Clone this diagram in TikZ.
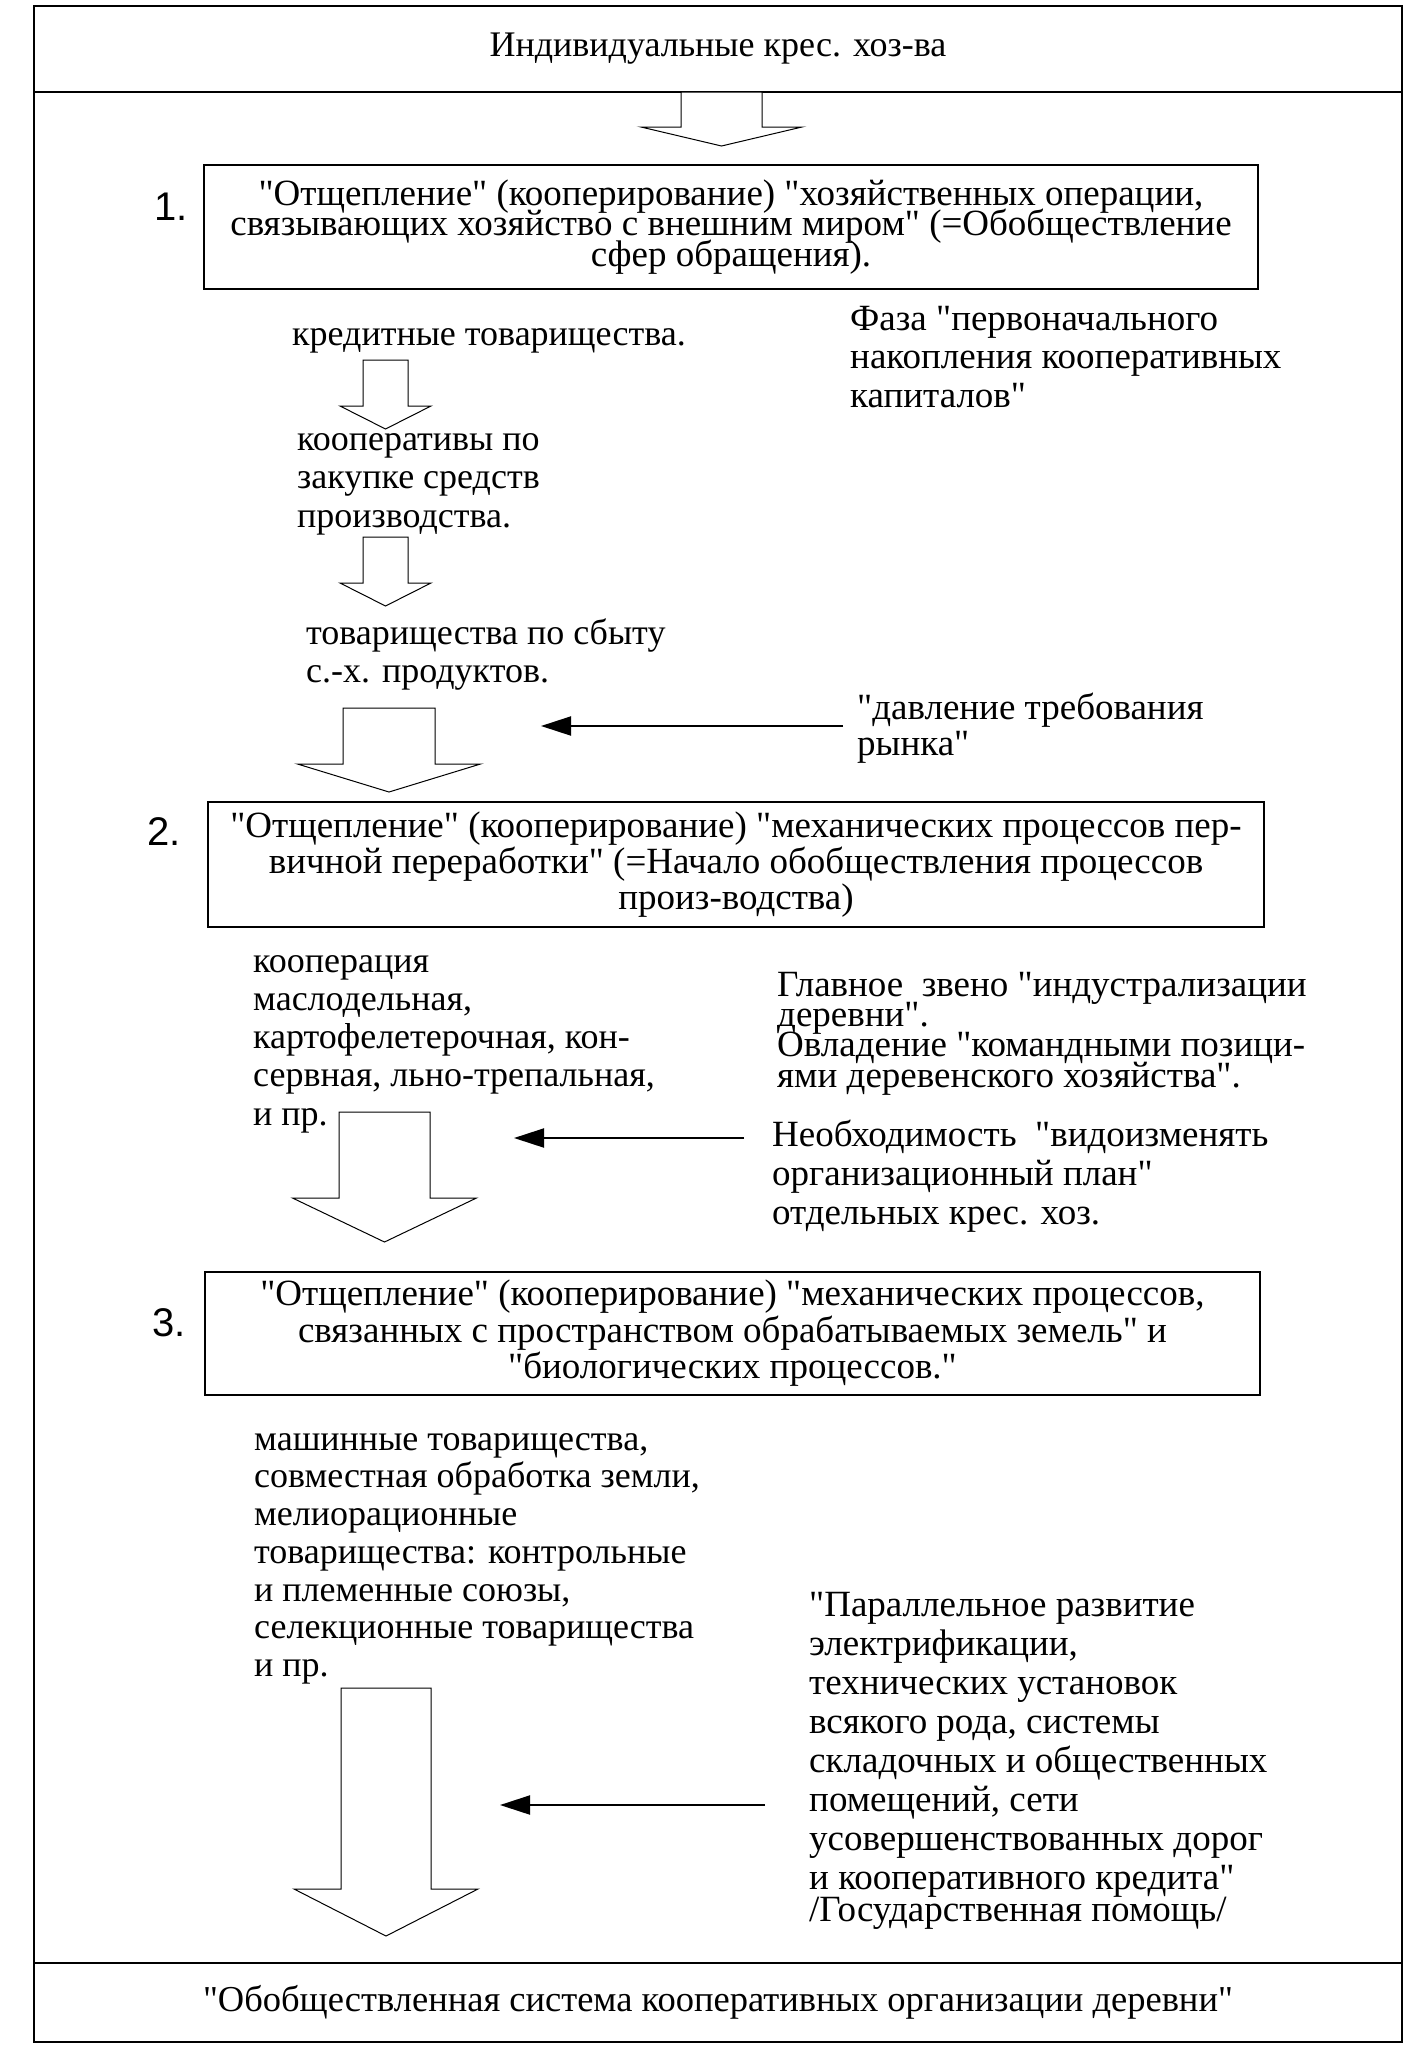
\documentclass[tikz,border=0pt]{standalone}
\usepackage{fontspec}
\setmainfont{Liberation Serif}[Ligatures=TeXOff]
\newfontfamily\numfont{Liberation Sans}
\usetikzlibrary{arrows.meta}
\newcommand\tb[2]{\fontsize{#1}{#2}\selectfont\lineskiplimit=-100pt\relax}
\newcommand\st{\rule{0pt}{28pt}}
\newcommand\blkarrow[6]{%
  \draw[blkarrow] ({#1-#2},#3) -- ({#1-#2},#4) -- ({#1-#5},#4) -- (#1,#6)
    -- ({#1+#5},#4) -- ({#1+#2},#4) -- ({#1+#2},#3) -- cycle;}
\begin{document}
\begin{tikzpicture}[x=1pt,y=-1pt,
  framebox/.style={draw=none, inner sep=0pt, minimum width=1368pt},
  frameline/.style={line width=2pt},
  stage/.style={draw, line width=2pt, align=center, inner sep=0pt},
  txt/.style={anchor=north west, align=left, inner sep=0pt},
  one/.style={anchor=base west, inner sep=0pt, font=\tb{36}{38}},
  num/.style={anchor=base west, inner sep=0pt, font=\numfont\fontsize{40}{40}\selectfont},
  blkarrow/.style={draw, line width=1pt, fill=white, line join=miter},
  pusharrow/.style={line width=2pt, -{Triangle[length=30pt,width=19pt]}}]
\useasboundingbox (0,0) rectangle (1409,2048);

% frame boxes
\node[framebox, minimum height=86pt, font=\tb{36}{38}] (top) at (718,49)
  {\raisebox{-3pt}{Индивидуальные крес. хоз-ва}};
\node[framebox, minimum height=79pt, font=\tb{36.5}{38}] (bot) at (718,2002.5)
  {"Обобществленная система кооперативных организации деревни"};
\draw[frameline] (top.north west) rectangle (bot.south east);
\draw[frameline] (top.south west) -- (top.south east);
\draw[frameline] (bot.north west) -- (bot.north east);

% stage boxes
\node[stage, minimum width=1054pt, minimum height=124pt, font=\tb{37}{30.5}] (s1) at (731,227)
  {"Отщепление" (кооперирование) "хозяйственных операции,\\
   связывающих хозяйство с внешним миром" (=Обобществление\\
   сфер обращения).};
\node[stage, minimum width=1056pt, minimum height=125pt, font=\tb{37}{36}] (s2) at (736,864.5)
  {"Отщепление" (кооперирование) "механических процессов пер-\\
   вичной переработки" (=Начало обобществления процессов\\
   произ-водства)};
\node[stage, minimum width=1055pt, minimum height=123pt, font=\tb{37}{36.5}] (s3) at (732.5,1333.5)
  {"Отщепление" (кооперирование) "механических процессов,\\
   связанных с пространством обрабатываемых земель" и\\
   "биологических процессов."};

\node[num] (n1) at (154,220) {1.};
\node[num] (n2) at (147,845) {2.};
\node[num] (n3) at (152,1336) {3.};

% block arrows
\blkarrow{721.5}{40.5}{92}{127}{80.5}{146}
\blkarrow{385.5}{22.5}{360}{406}{45.5}{429}
\blkarrow{385.5}{22.5}{537}{583}{45.5}{606}
\blkarrow{389}{46}{708}{764}{91.5}{792}
\blkarrow{384.5}{45.5}{1112}{1198}{92}{1242}
\blkarrow{386}{45}{1688}{1889}{92}{1936}

% left texts
\node[one] (l1) at (292,345) {кредитные товарищества.};
\node[txt, font=\tb{36}{38.5}] (l2) at (297,{450-28})
  {\st кооперативы по\\закупке средств\\производства.};
\node[txt, font=\tb{36}{38}] (l3) at (306,{644-28})
  {\st товарищества по сбыту\\с.-х. продуктов.};
\node[txt, font=\tb{36}{38.25}] (l4) at (253,{972-28})
  {\st кооперация\\маслодельная,\\картофелетерочная, кон-\\сервная, льно-трепальная,\\и пр.};
\node[txt, font=\tb{36}{37.7}] (l5) at (254,{1450-28})
  {\st машинные товарищества,\\совместная обработка земли,\\мелиорационные\\товарищества: контрольные\\и племенные союзы,\\селекционные товарищества\\и пр.};

% right texts
\node[txt, font=\tb{37}{38.5}] (r1) at (850,{330-28})
  {\st Фаза "первоначального\\накопления кооперативных\\капиталов"};
\node[txt, font=\tb{37}{36}] (r2) at (857,{719-28})
  {\st "давление требования\\рынка"};
\node[txt, font=\tb{37}{30.3}] (r3) at (777,{996-28})
  {\st Главное\ \ звено "индустрализации\\деревни".\\Овладение "командными позици-\\ями деревенского хозяйства".};
\node[txt, font=\tb{37}{39}] (r4) at (772,{1146-28})
  {\st Необходимость\ \ "видоизменять\\организационный план"\\отдельных крес. хоз.};
\node[txt, font=\tb{37}{39}] (r5) at (809,{1616-28})
  {\st "Параллельное развитие\\электрификации,\\технических установок\\всякого рода, системы\\складочных и общественных\\помещений, сети\\усовершенствованных дорог\\и кооперативного кредита"\\[-7pt]/Государственная помощь/};

% pressure arrows
\coordinate (p1s) at (843,726);  \coordinate (p1e) at (541,726);
\coordinate (p2s) at (744,1138); \coordinate (p2e) at (514,1138);
\coordinate (p3s) at (765,1805); \coordinate (p3e) at (500,1805);
\draw[pusharrow] (p1s) -- (p1e);
\draw[pusharrow] (p2s) -- (p2e);
\draw[pusharrow] (p3s) -- (p3e);
\end{tikzpicture}
\end{document}
